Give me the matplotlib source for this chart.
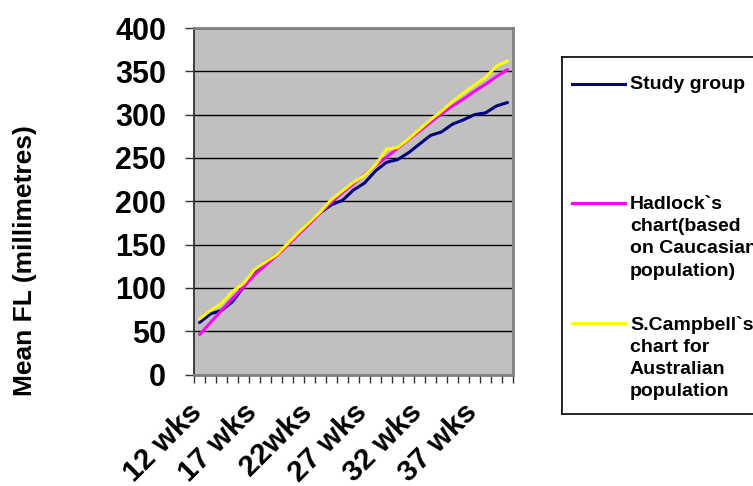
#!/usr/bin/env python3
"""Mean FL by gestational week: study group vs Hadlock and Campbell charts."""
import matplotlib
matplotlib.use("Agg")
import matplotlib.pyplot as plt  # noqa: E402
from matplotlib.transforms import ScaledTranslation  # noqa: E402

weeks = [12, 13, 14, 15, 16, 17, 18, 19, 20, 21, 22, 23, 24, 25, 26,
         27, 28, 29, 30, 31, 32, 33, 34, 35, 36, 37, 38, 39, 40]
study = [60, 70, 74, 84, 101, 118, 130, 138, 150, 163, 176, 187, 196, 201, 213,
         221, 235, 245, 248, 256, 266, 276, 280, 289, 294, 300, 302, 310, 314]
hadlock = [46, 60, 74, 88, 101, 115, 126, 137, 149, 162, 174, 187, 199, 210, 220,
           231, 241, 251, 261, 271, 281, 291, 301, 310, 318, 327, 335, 344, 352]
campbell = [64, 74, 82, 96, 105, 121, 130, 138, 151, 164, 176, 188, 202, 212, 222,
            230, 242, 260, 262, 272, 283, 294, 304, 315, 325, 334, 343, 356, 362]

tick_weeks = [12, 17, 22, 27, 32, 37]
tick_labels = ["12 wks", "17 wks", "22wks", "27 wks", "32 wks", "37 wks"]

series_labels = ["Study group",
                 "Hadlock`s\nchart(based\non Caucasian\npopulation)",
                 "S.Campbell`s\nchart for\nAustralian\npopulation"]
series_colors = ["#000080", "#FF00FF", "#FFFF00"]

plt.rcParams["font.family"] = ["Liberation Sans", "DejaVu Sans"]
plt.rcParams["font.weight"] = "bold"

W, H = 753, 486
fig = plt.figure(figsize=(W / 100, H / 100), dpi=100)

# plot area in pixel terms
left, right, top, bottom = 194, 513, 28, 374.5
ax = fig.add_axes([left / W, (H - bottom) / H, (right - left) / W, (bottom - top) / H])
ax.set_facecolor("#C0C0C0")

x = list(range(len(weeks)))
for vals, col in zip([study, hadlock, campbell], series_colors):
    ax.plot(x, vals, color=col, lw=2.2, solid_capstyle="round")

ax.set_xlim(-0.5, len(weeks) - 0.5)
ax.set_ylim(0, 400)
ax.set_yticks(range(0, 401, 50))
ax.yaxis.grid(True, color="black", lw=1.0)
ax.set_axisbelow(True)
ax.tick_params(axis="y", direction="out", length=6.5, width=1, color="#333333",
               pad=13.5, labelsize=22)
for lab in ax.get_yticklabels():
    lab.set_fontweight("bold")

# category boundaries as minor ticks, labels every 5 weeks
ax.set_xticks([i - 0.5 for i in range(len(weeks) + 1)], minor=True)
ax.tick_params(axis="x", which="minor", direction="out", length=6, width=1,
               color="#333333")
ax.set_xticks([weeks.index(w) for w in tick_weeks])
ax.set_xticklabels(tick_labels, rotation=45, ha="right", va="baseline",
                   rotation_mode="anchor", fontsize=21.5, fontweight="bold")
ax.tick_params(axis="x", which="major", length=0, pad=28)
shift = ScaledTranslation(0.04, 0, fig.dpi_scale_trans)
for lab in ax.get_xticklabels():
    lab.set_transform(lab.get_transform() + shift)

ax.spines["left"].set_color("#333333")
ax.spines["left"].set_linewidth(1.3)
for s in ["top", "right", "bottom"]:
    ax.spines[s].set_color("#808080")
    ax.spines[s].set_linewidth(2)

fig.text(25 / W, 1 - 261 / H, "Mean FL (millimetres)", rotation=90,
         ha="center", va="center", fontsize=19, fontweight="bold")

# legend box (runs off the right edge like the original)
lx0, lx1, ly0, ly1 = 562, 770, 57, 414
lax = fig.add_axes([lx0 / W, (H - ly1) / H, (lx1 - lx0) / W, (ly1 - ly0) / H])
lax.set_xlim(lx0, lx1)
lax.set_ylim(ly1, ly0)
lax.set_xticks([])
lax.set_yticks([])
for s in lax.spines.values():
    s.set_color("black")
    s.set_linewidth(1.2)
for i, (lab, col) in enumerate(zip(series_labels, series_colors)):
    yy = 84 + 119.5 * i
    lax.plot([572, 625], [yy, yy], color=col, lw=2.2)
    lax.text(630, yy - 7.5, lab, fontsize=14, fontweight="bold", va="top",
             ha="left", linespacing=1.4)

fig.savefig("out.png", dpi=100)
